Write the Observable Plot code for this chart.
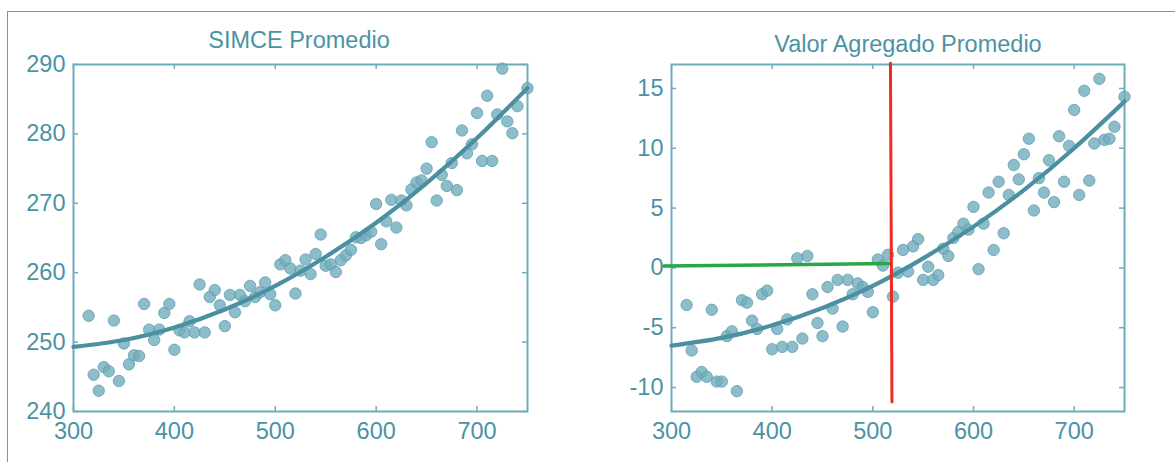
<!DOCTYPE html>
<html><head><meta charset="utf-8">
<script src="https://cdn.jsdelivr.net/npm/d3@7"></script>
<script src="https://cdn.jsdelivr.net/npm/@observablehq/plot@0.6"></script>
<style>
body{margin:0;background:#fff;width:1175px;height:462px;overflow:hidden;position:relative;font-family:"Liberation Sans",Arial,sans-serif;}
#border{position:absolute;left:7px;top:11px;width:1200px;height:500px;border-top:1.5px solid #6b98c8;border-left:1.5px solid #6b98c8;}
.title{position:absolute;font-size:23.5px;line-height:23px;color:#4a93a5;white-space:nowrap;transform:translateX(-50%);}
.panel{position:absolute;top:58px;}
</style></head><body>
<div id="border"></div>
<div class="title" style="left:299px;top:29px">SIMCE Promedio</div>
<div class="title" style="left:908px;top:33px">Valor Agregado Promedio</div>
<div id="left" class="panel" style="left:0"></div>
<div id="right" class="panel" style="left:590px"></div>
<script>
// ---- data ----
const xTicks = [300, 400, 500, 600, 700];
const simceTicks = [240, 250, 260, 270, 280, 290];
const vaTicks = [-10, -5, 0, 5, 10, 15];

const schoolX = [315,320,325,330,335,340,345,350,355,360,365,370,375,380,385,390,395,400,405,410,415,420,425,430,435,440,445,450,455,460,465,470,475,480,485,490,495,500,505,510,515,520,525,530,535,540,545,550,555,560,565,570,575,580,585,590,595,600,605,610,615,620,625,630,635,640,645,650,655,660,665,670,675,680,685,690,695,700,705,710,715,720,725,730,735,740,750];

const simceY = [253.8,245.3,243.0,246.4,245.8,253.1,244.4,249.8,246.8,248.1,248.0,255.5,251.8,250.3,251.8,254.2,255.5,248.9,251.7,251.4,253.0,251.4,258.3,251.4,256.5,257.5,255.3,252.3,256.8,254.3,256.8,255.9,258.1,256.5,257.2,258.6,256.9,255.3,261.2,261.8,260.6,257.0,260.3,261.9,259.8,262.7,265.5,261.0,261.2,260.1,261.8,262.5,263.3,265.1,265.0,265.4,265.9,269.9,264.1,267.4,270.5,266.5,270.4,269.7,272.0,273.0,273.3,275.0,278.8,270.4,274.1,272.5,275.8,271.9,280.5,277.2,278.5,283.0,276.1,285.5,276.1,282.8,289.4,281.8,280.1,284.0,286.6];

const vaY = [-3.1,-6.9,-9.1,-8.7,-9.1,-3.5,-9.5,-9.5,-5.7,-5.3,-10.3,-2.7,-2.9,-4.4,-5.1,-2.2,-1.9,-6.8,-5.1,-6.6,-4.3,-6.6,0.8,-5.9,1.0,-2.2,-4.6,-5.7,-1.6,-3.4,-1.0,-4.9,-1.0,-2.2,-1.3,-1.6,-2.0,-3.7,0.7,0.2,1.1,-2.4,-0.4,1.5,-0.3,1.8,2.4,-1.0,0.1,-1.0,-0.6,1.6,1.0,2.5,3.0,3.7,3.2,5.1,-0.1,3.7,6.3,1.5,7.2,2.9,6.1,8.6,7.4,9.5,10.8,4.8,7.5,6.3,9.0,5.5,11.0,7.2,10.2,13.2,6.1,14.8,7.3,10.4,15.8,10.7,10.8,11.8,14.3];

const fitX = [300,350,400,450,500,550,600,650,700,750];
const simceFit = [249.3,250.3,252.1,254.7,258.1,262.3,267.2,272.9,279.4,286.6];
const vaFit = [-6.5,-5.85,-4.8,-3.35,-1.5,0.8,3.45,6.5,10.0,13.9];

const redX = [517.5, 519];
const redY = [17.1, -11.2];
const greenX = [292.5, 518];
const greenY = [0.15, 0.37];

// ---- style ----
const TEAL_TEXT = "#4a93a5";
const FRAME = "#6eacbd";
const DOT = "#72adbd";
const DOT_EDGE = "#5f9fb1";
const LINE = "#4b8fa1";

function panel({ys, fit, yDomain, yTicks, width, ml, mr, extra = []}) {
  const H = 393, mt = 6, mb = 40;
  const innerW = width - ml - mr, innerH = H - mt - mb;
  const pts = schoolX.map((x, i) => ({x, y: ys[i]}));
  const fitPts = fitX.map((x, i) => ({x, y: fit[i]}));
  return Plot.plot({
    width, height: H,
    marginLeft: ml, marginRight: mr, marginTop: mt, marginBottom: mb,
    x: {domain: [300, 750]},
    y: {domain: yDomain},
    style: {fontSize: "23.5px", fontFamily: "Liberation Sans, Arial, sans-serif", color: TEAL_TEXT, background: "transparent", overflow: "visible"},
    marks: [
      Plot.frame({stroke: FRAME, strokeWidth: 2}),
      Plot.tickY(yTicks, {y: d => d, insetRight: innerW - 5, stroke: FRAME, strokeWidth: 1.5}),
      Plot.tickY(yTicks, {y: d => d, insetLeft: innerW - 5, stroke: FRAME, strokeWidth: 1.5}),
      Plot.tickX(xTicks, {x: d => d, insetTop: innerH - 5, stroke: FRAME, strokeWidth: 1.5}),
      Plot.tickX(xTicks, {x: d => d, insetBottom: innerH - 5, stroke: FRAME, strokeWidth: 1.5}),
      Plot.axisX({ticks: xTicks, tickSize: 0, tickPadding: 11, tickFormat: d => String(d), label: null}),
      Plot.axisY({ticks: yTicks, tickSize: 0, tickPadding: 8, tickFormat: d => String(d), label: null}),
      Plot.dot(pts, {x: "x", y: "y", r: 5.7, fill: DOT, fillOpacity: 0.8, stroke: DOT_EDGE, strokeOpacity: 0.8, strokeWidth: 1}),
      Plot.line(fitPts, {x: "x", y: "y", curve: "natural", stroke: LINE, strokeWidth: 4.2}),
      ...extra
    ]
  });
}

document.getElementById("left").append(panel({
  ys: simceY, fit: simceFit, yDomain: [240, 290], yTicks: simceTicks,
  width: 570, ml: 73, mr: 43
}));

document.getElementById("right").append(panel({
  ys: vaY, fit: vaFit, yDomain: [-12, 17], yTicks: vaTicks,
  width: 585, ml: 81, mr: 51,
  extra: [
    Plot.line(greenX.map((x, i) => [x, greenY[i]]), {stroke: "#27a845", strokeWidth: 3.5}),
    Plot.line(redX.map((x, i) => [x, redY[i]]), {stroke: "#ee2a24", strokeWidth: 3})
  ]
}));
</script>
</body></html>
